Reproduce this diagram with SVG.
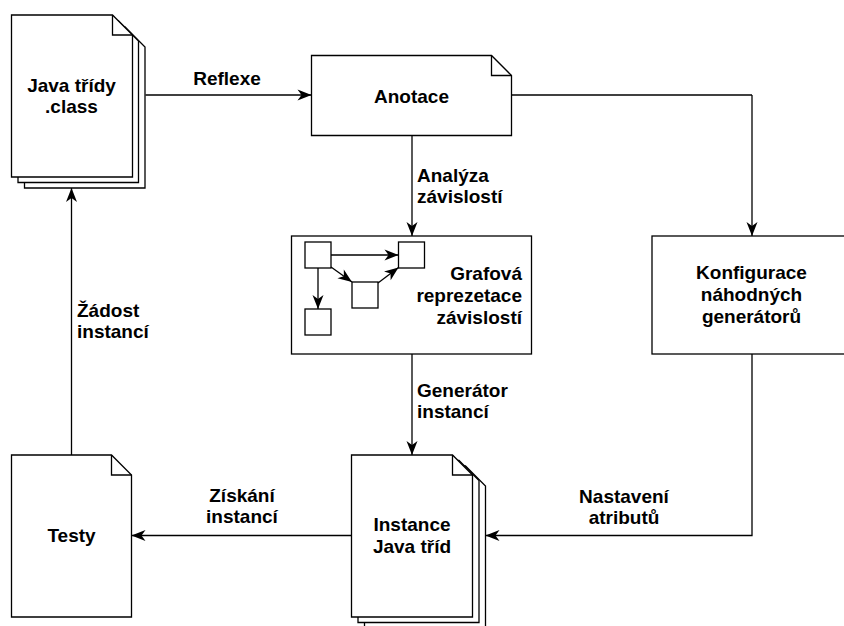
<svg xmlns="http://www.w3.org/2000/svg" width="844" height="626" viewBox="0 0 844 626">
<defs>
<style>
.s{fill:#fff;stroke:#000;stroke-width:1.3}
.f{fill:none;stroke:#000;stroke-width:1.3}
.e{fill:none;stroke:#000;stroke-width:1.3;marker-end:url(#a)}
text{font-family:"Liberation Sans",Arial,sans-serif;font-weight:bold;font-size:19px;fill:#000}
.m{text-anchor:middle}
.r{text-anchor:end}
</style>
<marker id="a" markerUnits="userSpaceOnUse" markerWidth="14" markerHeight="11" refX="14" refY="5.5" orient="auto" overflow="visible">
<path d="M0,0 L14,5.5 L0,11 L4,5.5 Z" fill="#000"/>
</marker>
</defs>
<rect width="844" height="626" fill="#fff"/>
<g id="connectors">
<path class="e" d="M145.5,95 H311.5"/>
<path class="e" d="M412,135.5 V236"/>
<path class="f" d="M511.5,95 H752"/>
<path class="e" d="M752,95 V236"/>
<path class="e" d="M412,354 V455"/>
<path class="e" d="M752,354 V535.5 H485.5"/>
<path class="e" d="M351.5,535.5 H131.5"/>
<path class="e" d="M71.5,455 V188"/>
</g>
<g id="java-tridy">
<path class="s" d="M24.5,27 H125 L145,47 V188 H24.5 Z"/>
<path class="s" d="M18,21 H118.5 L138.5,41 V182.5 H18 Z"/>
<path class="s" d="M11.5,15 H112.5 L132.5,35 V177 H11.5 Z"/>
<path class="f" d="M112.5,15 V35 H132.5"/>
<text class="m" x="71.5" y="91.5">Java třídy</text>
<text class="m" x="71.5" y="112.5">.class</text>
</g>
<g id="anotace">
<path class="s" d="M311.5,55.5 H491.5 L511.5,75.5 V135.5 H311.5 Z"/>
<path class="f" d="M491.5,55.5 V75.5 H511.5"/>
<text class="m" x="411.5" y="102.5">Anotace</text>
</g>
<g id="grafova">
<rect class="s" x="291.5" y="236" width="240" height="118"/>
<rect class="s" x="305" y="242" width="26" height="26"/>
<rect class="s" x="398.5" y="242" width="26" height="26"/>
<rect class="s" x="352" y="282" width="26" height="26"/>
<rect class="s" x="305" y="309" width="26" height="26"/>
<path class="e" d="M331,255 H398.5"/>
<path class="e" d="M331,267 L352,282"/>
<path class="e" d="M378,283 L398.5,267.5"/>
<path class="e" d="M318,268 V309"/>
<text class="r" x="522" y="280">Grafová</text>
<text class="r" x="522" y="302">reprezetace</text>
<text class="r" x="522" y="324">závislostí</text>
</g>
<g id="konfigurace">
<rect class="s" x="652" y="236" width="200" height="118"/>
<text class="m" x="751.5" y="279">Konfigurace</text>
<text class="m" x="751.5" y="301">náhodných</text>
<text class="m" x="751.5" y="323">generátorů</text>
</g>
<g id="instance">
<path class="s" d="M364.5,466 H465.5 L485.5,486 V630 H364.5 Z"/>
<path class="s" d="M358,460.5 H459 L479,480.5 V622.5 H358 Z"/>
<path class="s" d="M351.5,455 H452.5 L472.5,475 V617 H351.5 Z"/>
<path class="f" d="M452.5,455 V475 H472.5"/>
<text class="m" x="412" y="531">Instance</text>
<text class="m" x="412" y="553">Java tříd</text>
</g>
<g id="testy">
<path class="s" d="M11.5,455 H111.5 L131.5,475 V617 H11.5 Z"/>
<path class="f" d="M111.5,455 V475 H131.5"/>
<text class="m" x="71.5" y="542">Testy</text>
</g>
<g id="labels">
<text class="m" x="227" y="85">Reflexe</text>
<text x="417" y="182">Analýza</text>
<text x="417" y="203">závislostí</text>
<text x="417" y="397">Generátor</text>
<text x="417" y="418">instancí</text>
<text x="77" y="317">Žádost</text>
<text x="77" y="338">instancí</text>
<text class="m" x="242" y="502">Získání</text>
<text class="m" x="242" y="523">instancí</text>
<text class="m" x="624" y="503">Nastavení</text>
<text class="m" x="624" y="524">atributů</text>
</g>
</svg>
